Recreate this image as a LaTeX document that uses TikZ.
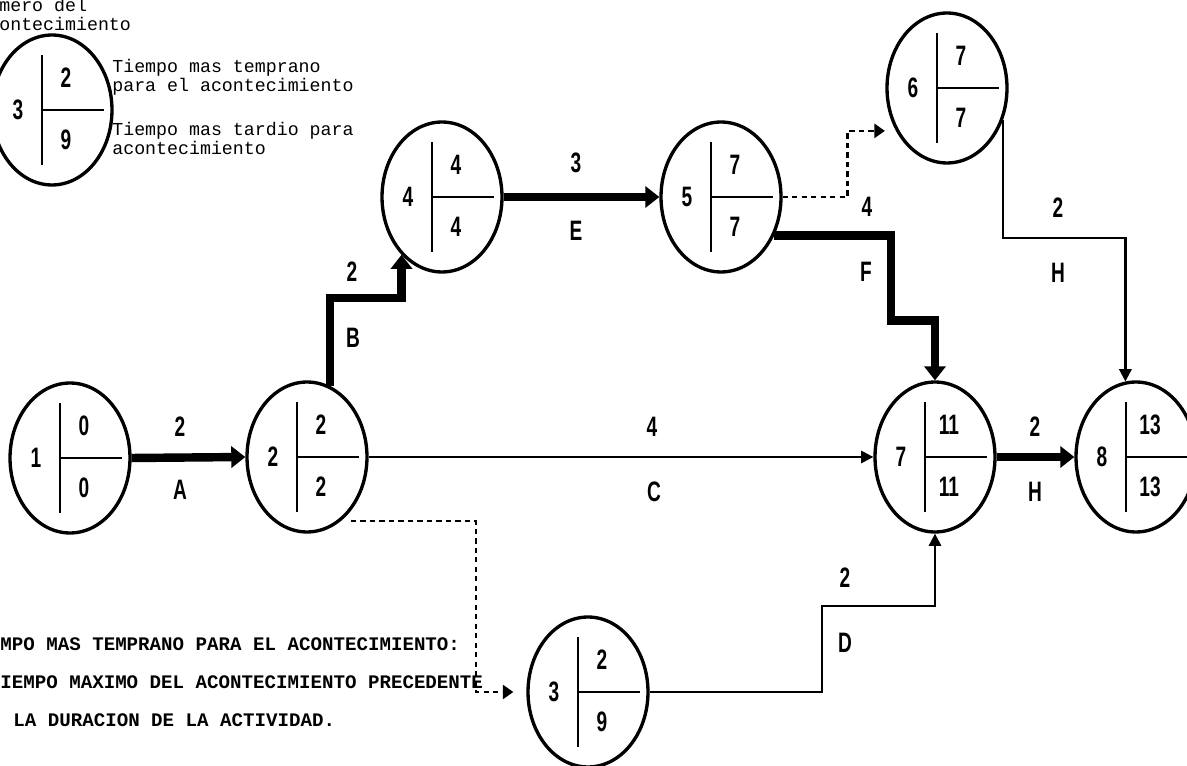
\documentclass[tikz,border=0pt]{standalone}
\usepackage{fontspec}
\setmainfont{Liberation Mono}
\newfontfamily\numfont[FakeStretch=0.68]{Liberation Sans}
\usetikzlibrary{arrows.meta,positioning,shapes.geometric,calc}
% one event: name, centre, number, earliest, latest
\newcommand{\acont}[5]{%
  \node[evento] (#1) at (#2) {};
  \draw[divisor] ($(#1)+(-10,-55)$) -- ($(#1)+(-10,55)$);
  \draw[divisor] ($(#1)+(-10,0)$) -- ($(#1)+(52,0)$);
  \node[numev] (#1n) at ($(#1)+(-34,0)$) {#3};
  \node[numev] (#1t) at ($(#1)+(14,-32)$) {#4};
  \node[numev] (#1l) at ($(#1)+(14,30)$) {#5};
}
\tikzset{
  evento/.style={ellipse,draw,line width=1.9pt,minimum width=2.4cm,
                 minimum height=3cm,inner sep=0pt},
  divisor/.style={line width=1.1pt},
  numev/.style={font=\numfont\bfseries\fontsize{16}{16}\selectfont,inner sep=0pt},
  etiq/.style={numev},
  critica/.style={line width=4.8pt,-{Triangle[length=8pt,width=12pt]}},
  actividad/.style={line width=1.3pt,-{Triangle[length=7pt,width=7pt]}},
  ficticia/.style={line width=1.4pt,dash pattern=on 3pt off 2.4pt,
                   -{Triangle[length=6pt,width=8pt]}},
  leyenda/.style={font=\fontsize{10.4}{10.8}\selectfont,align=left,
                  inner sep=0pt,anchor=west},
  nota/.style={font=\bfseries\fontsize{10.9}{12}\selectfont,inner sep=0pt,anchor=west},
}
\begin{document}
\begin{tikzpicture}[x=0.02cm,y=-0.02cm]
  \useasboundingbox (0,0) rectangle (1187,766);
  % legend
  \node[leyenda] (numtxt) at (-1,14) {mero del\\ontecimiento};
  \acont{evL}{52,110}{3}{2}{9}
  \node[leyenda] (temptxt) at (112,77) {Tiempo mas temprano\\para el acontecimiento};
  \node[leyenda] (tardtxt) at (112,138) {Tiempo mas tardio para\\acontecimiento};
  % events
  \acont{ev1}{70,458}{1}{0}{0}
  \acont{ev2}{307,457}{2}{2}{2}
  \acont{ev4}{442,197}{4}{4}{4}
  \acont{ev5}{721,197}{5}{7}{7}
  \acont{ev6}{947,88}{6}{7}{7}
  \acont{ev7}{935,457}{7}{11}{11}
  \acont{ev8}{1136,457}{8}{13}{13}
  \acont{ev3}{588,692}{3}{2}{9}
  % activities
  \draw[critica] (ev1.east) -- (ev2.west);
  \draw[critica] (ev2.72) -- ++(0,-88) -| (ev4.235);
  \draw[critica] (ev4.east) -- (ev5.west);
  \draw[critica] (ev5.-36) -- ++(117,0) -- ++(0,85) -| (ev7.north);
  \draw[critica] (ev7.east) -- (ev8.west);
  \draw[actividad] (ev2.east) -- (ev7.west);
  \draw[actividad] (ev6.-30) -- ++(0,118) -| (ev8.98);
  \draw[actividad] (ev3.east) -- ++(172,0) -- ++(0,-86) -| (ev7.south);
  \draw[ficticia,shorten >=0.22cm] (ev5.east) -- ++(65,0) |- (ev6.220);
  \draw[ficticia,shorten <=0.2cm,shorten >=0.26cm] (ev2.-62) -- ++(135,0) |- (ev3.west);
  % labels
  \node[etiq] (dA) at (180,427) {2};   \node[etiq] (lA) at (180,490) {A};
  \node[etiq] (dB) at (352,272) {2};   \node[etiq] (lB) at (353,338) {B};
  \node[etiq] (dE) at (576,163) {3};   \node[etiq] (lE) at (576,231) {E};
  \node[etiq] (dF) at (867,207) {4};   \node[etiq] (lF) at (866,272) {F};
  \node[etiq] (dH) at (1058,208) {2};  \node[etiq] (lH) at (1058,273) {H};
  \node[etiq] (dC) at (652,427) {4};   \node[etiq] (lC) at (654,492) {C};
  \node[etiq] (dH2) at (1035,427) {2}; \node[etiq] (lH2) at (1035,492) {H};
  \node[etiq] (dD) at (845,578) {2};   \node[etiq] (lD) at (845,643) {D};
  % rule
  \node[nota] (reg1) at (0,644) {MPO MAS TEMPRANO PARA EL ACONTECIMIENTO:};
  \node[nota] (reg2) at (0,682) {IEMPO MAXIMO DEL ACONTECIMIENTO PRECEDENTE};
  \node[nota] (reg3) at (13,720) {LA DURACION DE LA ACTIVIDAD.};
\end{tikzpicture}
\end{document}
